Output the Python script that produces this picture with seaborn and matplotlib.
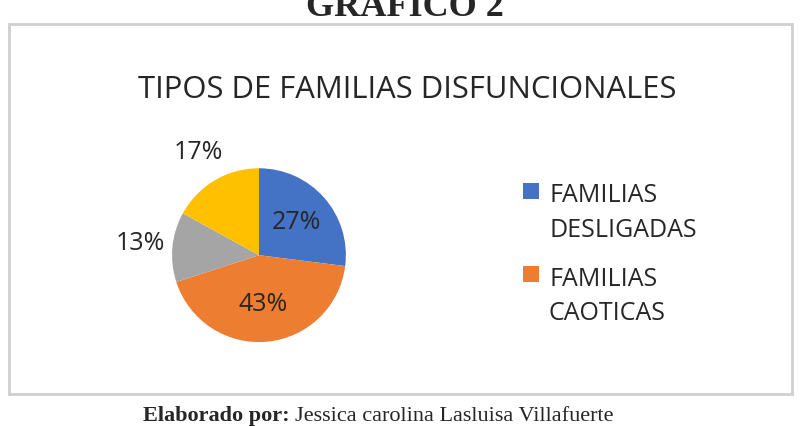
import numpy as np
import pandas as pd
import matplotlib.pyplot as plt
import seaborn as sns
from matplotlib.patches import Rectangle
from matplotlib.legend_handler import HandlerPatch

# data
categorias = ["FAMILIAS\nDESLIGADAS", "FAMILIAS\nCAOTICAS", "OTRAS 1", "OTRAS 2"]
porcentajes = [27, 43, 13, 17]
colores = ["#4472C4", "#ED7D31", "#A5A5A5", "#FFC000"]
en_leyenda = 2  # only the first two categories appear in the legend

titulo = "TIPOS DE FAMILIAS DISFUNCIONALES"
encabezado = "GRAFICO 2"
pie_autor = "Jessica carolina Lasluisa Villafuerte"


def top_square(legend, orig_handle, xdescent, ydescent, width, height, fontsize):
    """legend square aligned with the first line of a two-line label"""
    side = 11.5
    return Rectangle((-xdescent + width - side, -ydescent + 0.95 * fontsize), side, side)


def main():
    sns.set_theme(style="white")
    plt.rcParams['font.family'] = ['Open Sans', 'DejaVu Sans']

    fig = plt.figure(figsize=(8.09, 4.26), dpi=100)
    df = pd.DataFrame({"cat": categorias, "pct": porcentajes})

    # frame around the chart
    fig.patches.append(Rectangle((9 / 809, 1 - 394 / 426), 783 / 809, 370 / 426,
                                 transform=fig.transFigure, fill=False,
                                 edgecolor="#cfcfcf", linewidth=2))

    ax = fig.add_axes([0.2126, 0.197, 0.215, 0.408])
    wedges, texts, autotexts = ax.pie(df["pct"], colors=colores, startangle=90,
                                      counterclock=False, autopct="%1.0f%%",
                                      pctdistance=0.57,
                                      wedgeprops=dict(linewidth=0),
                                      textprops=dict(fontsize=18, color="#262626"))
    ax.set_xlim(-1, 1)
    ax.set_ylim(-1, 1)
    ax.set_aspect("equal")
    # the two small slices have their labels outside
    for t in autotexts[2:]:
        x, y = t.get_position()
        t.set_position((x * 1.37 / 0.57, y * 1.37 / 0.57))

    fig.text(0.503, 1 - 98 / 426, titulo, ha="center", va="baseline",
             fontsize=22.3, color="#262626")

    leg = fig.legend(wedges[:en_leyenda], df["cat"][:en_leyenda],
                     loc="upper left", bbox_to_anchor=(494 / 809, 1 - 161 / 426),
                     frameon=False, fontsize=18, labelspacing=0.95,
                     handlelength=0.9, handletextpad=0.4,
                     handler_map={wedges[0].__class__: HandlerPatch(patch_func=top_square)})
    for t in leg.get_texts():
        t.set_linespacing(1.5)
        t.set_color("#262626")

    fig.text(0.5, 1 - 16 / 426, encabezado, ha="center", va="baseline",
             fontsize=26, fontweight="bold", family="Liberation Serif")

    r = fig.canvas.get_renderer()
    t1 = fig.text(143 / 809, 1 - 421 / 426, "Elaborado por:", ha="left", va="baseline",
                  fontsize=16, fontweight="bold", family="Liberation Serif")
    bb = t1.get_window_extent(renderer=r)
    fig.text((bb.x1 + 5) / 809, 1 - 421 / 426, pie_autor, ha="left", va="baseline",
             fontsize=16, family="Liberation Serif")

    fig.savefig("out.png", dpi=100)
    plt.close()


if __name__ == "__main__":
    main()
